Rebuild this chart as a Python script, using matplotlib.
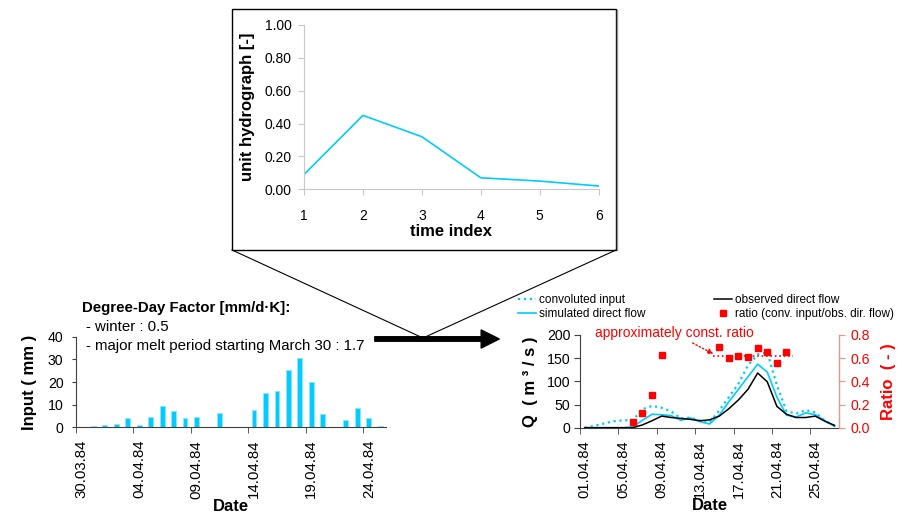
import matplotlib
matplotlib.use("Agg")
import matplotlib.pyplot as plt
import numpy as np
from matplotlib.patches import Rectangle, FancyArrowPatch
from matplotlib.lines import Line2D
from matplotlib.ticker import FormatStrFormatter

# ---- data ----
# unit hydrograph
uh_index = [1, 2, 3, 4, 5, 6]
uh_values = [0.09, 0.45, 0.32, 0.07, 0.05, 0.02]

# daily melt input, 30.03.84 .. 25.04.84
input_mm = [0, 0.5, 1.0, 1.5, 4.0, 0.8, 4.5, 9.4, 7.2, 4.3, 4.7, 0, 6.2, 0,
            0, 7.8, 15.0, 16.0, 25.2, 30.5, 20.1, 5.7, 0, 3.4, 8.5, 4.3, 0.6]
input_ticklabels = ['30.03.84', '04.04.84', '09.04.84', '14.04.84', '19.04.84', '24.04.84']

# discharge, 01.04.84 .. 27.04.84
conv_input = [0, 4, 9, 14, 16, 16, 40, 47, 43, 35, 20, 22, 15, 12,
              37, 66, 95, 135, 158, 163, 92, 36, 30, 38, 33, 15, 4]
sim_flow = [0, 0, 0, 0, 0, 2, 16, 29, 28, 26, 16, 21, 13, 8,
            27, 56, 83, 110, 137, 120, 66, 27, 23, 32, 28, 15, 3]
obs_flow = [0, 0, 0, 0, 0, 0, 6, 15, 25, 22, 20, 18, 15, 17,
            25, 41, 60, 83, 118, 99, 46, 29, 22, 22, 25, 14, 5]
nan = np.nan
ratio = [nan, nan, nan, nan, nan, 0.05, 0.13, 0.28, 0.63, nan, nan, nan, nan, nan,
         0.70, 0.60, 0.62, 0.61, 0.685, 0.65, 0.555, 0.65, nan, nan, nan, nan, nan]
q_ticklabels = ['01.04.84', '05.04.84', '09.04.84', '13.04.84', '17.04.84', '21.04.84', '25.04.84']
const_ratio = 0.62
const_span = (13.4, 21.7)

cyan = '#00CCFF'

plt.rcParams['font.family'] = 'Liberation Sans'
fig = plt.figure(figsize=(9, 5.17), dpi=100)
W, H = 900.0, 517.0


def fx(px):
    return px / W


def fy(py):
    return 1 - py / H


# ---- unit hydrograph inset ----
ax_uh = fig.add_axes([fx(304), fy(189.3), 294.7 / W, 164.3 / H])
ax_uh.plot(uh_index, uh_values, color=cyan, lw=1.2)
ax_uh.set_xlim(1, 6)
ax_uh.set_ylim(0, 1)
ax_uh.set_xticks(uh_index)
ax_uh.set_yticks(np.arange(0, 1.01, 0.2))
ax_uh.yaxis.set_major_formatter(FormatStrFormatter('%.2f'))
for s in ['top', 'right']:
    ax_uh.spines[s].set_visible(False)
for s in ['left', 'bottom']:
    ax_uh.spines[s].set_color('#c8c8c8')
ax_uh.tick_params(axis='y', length=4, color='#c8c8c8', labelsize=10, pad=5)
ax_uh.tick_params(axis='x', length=4, color='#c8c8c8', labelsize=10, pad=10)
ax_uh.set_ylabel('unit hydrograph [-]', fontweight='bold', fontsize=12, labelpad=7)
ax_uh.set_xlabel('time index', fontweight='bold', fontsize=12, labelpad=1)

# box round the inset and callout lines
fig.add_artist(Rectangle((fx(232), fy(250)), (616 - 232) / W, (250 - 9) / H,
                         transform=fig.transFigure, fill=False, edgecolor='black', lw=1))
fig.add_artist(Line2D([fx(617), fx(617)], [fy(250), fy(10)], transform=fig.transFigure,
                      color='#909090', lw=1))
fig.add_artist(Line2D([fx(232), fx(423)], [fy(250), fy(338)], transform=fig.transFigure,
                      color='black', lw=0.8))
fig.add_artist(Line2D([fx(616), fx(423)], [fy(250), fy(338)], transform=fig.transFigure,
                      color='black', lw=0.8))
fig.add_artist(FancyArrowPatch((fx(372), fy(339)), (fx(502), fy(339)), transform=fig.transFigure,
                               arrowstyle='simple,head_length=1.0,head_width=1.0,tail_width=0.25',
                               mutation_scale=13, color='black'))

# ---- input bars ----
ax_in = fig.add_axes([fx(76), fy(427.3), 310 / W, 90.6 / H])
x_in = np.arange(len(input_mm))
ax_in.bar(x_in, input_mm, width=0.42, color=cyan, edgecolor='#8fe6ff', lw=0.6)
ax_in.set_xlim(-0.5, len(input_mm) - 0.5)
ax_in.set_ylim(0, 40)
ax_in.set_yticks([0, 10, 20, 30, 40])
ax_in.set_xticks(np.arange(0, len(input_mm), 5))
ax_in.set_xticklabels(input_ticklabels, rotation=90)
ax_in.set_xticks(np.arange(-0.5, len(input_mm), 5), minor=True)
ax_in.tick_params(axis='x', which='major', length=0, labelsize=10.8, pad=9)
ax_in.tick_params(axis='x', which='minor', length=4, color='#404040')
ax_in.tick_params(axis='y', length=3, color='#404040', labelsize=10.2, pad=6)
for s in ['top', 'right']:
    ax_in.spines[s].set_visible(False)
for s in ['left', 'bottom']:
    ax_in.spines[s].set_color('#404040')
ax_in.set_ylabel('Input ( mm )', fontweight='bold', fontsize=12, labelpad=8)
ax_in.set_xlabel('Date', fontweight='bold', fontsize=12, labelpad=0)

fig.text(fx(82), fy(308), 'Degree-Day Factor [mm/d\u00b7K]:', fontweight='bold', fontsize=10.8, va='center')
fig.text(fx(86), fy(327), '- winter : 0.5', fontsize=10.8, va='center')
fig.text(fx(86), fy(346), '- major melt period starting March 30 : 1.7', fontsize=10.8, va='center')

# ---- discharge chart ----
ax_q = fig.add_axes([fx(580), fy(427.7), 259.3 / W, 92.7 / H])
x_q = np.arange(len(obs_flow))
l_conv, = ax_q.plot(x_q, conv_input, ':', color=cyan, lw=1.6)
l_sim, = ax_q.plot(x_q, sim_flow, '-', color=cyan, lw=1.2)
l_obs, = ax_q.plot(x_q, obs_flow, '-', color='black', lw=1.1)
ax_q.set_xlim(-0.5, len(obs_flow) - 0.5)
ax_q.set_ylim(0, 200)
ax_q.set_yticks([0, 50, 100, 150, 200])
ax_q.set_xticks(np.arange(0, len(obs_flow), 4))
ax_q.set_xticklabels(q_ticklabels, rotation=90)
ax_q.set_xticks(np.arange(-0.5, len(obs_flow), 4), minor=True)
ax_q.tick_params(axis='x', which='major', length=0, labelsize=10.6, pad=9)
ax_q.tick_params(axis='x', which='minor', length=4, color='#404040')
ax_q.tick_params(axis='y', length=4, color='#404040', labelsize=10.2, pad=3)
ax_q.spines['top'].set_visible(False)
for s in ['left', 'bottom']:
    ax_q.spines[s].set_color('#404040')
ax_q.set_ylabel('Q  ( m \u00b3 / s )', fontweight='bold', fontsize=12, labelpad=6)
ax_q.set_xlabel('Date', fontweight='bold', fontsize=12, labelpad=0)

ax_r = ax_q.twinx()
l_ratio, = ax_r.plot(x_q, ratio, 's', color='red', markersize=4.5, ls='none')
ax_r.set_ylim(0, 0.8)
ax_r.set_yticks([0, 0.2, 0.4, 0.6, 0.8])
ax_r.yaxis.set_major_formatter(FormatStrFormatter('%.1f'))
ax_r.spines['top'].set_visible(False)
ax_r.spines['left'].set_visible(False)
ax_r.spines['bottom'].set_visible(False)
ax_r.spines['right'].set_color('#ff8c8c')
ax_r.tick_params(axis='y', length=4, color='#ff8c8c', labelcolor='red', labelsize=10.2, pad=4)
ax_r.set_ylabel('Ratio  ( - )', color='red', fontweight='bold', fontsize=12, labelpad=8)
ax_r.plot(const_span, [const_ratio, const_ratio], ':', color='red', lw=1.2)
ax_r.annotate('approximately const. ratio', xy=(const_span[0], 0.636), xytext=(9.3, 0.815),
              color='red', fontsize=10, ha='center', va='center', annotation_clip=False,
              arrowprops=dict(arrowstyle='-|>', linestyle=':', color='red', lw=1,
                              shrinkA=0, shrinkB=0, mutation_scale=8))

fig.legend([l_conv, l_sim, l_obs, l_ratio],
           ['convoluted input', 'simulated direct flow', 'observed direct flow',
            'ratio (conv. input/obs. dir. flow)'],
           loc='upper left', bbox_to_anchor=(fx(518), fy(294)), ncol=2, frameon=False,
           fontsize=8.5, handlelength=1.5, handletextpad=0.3, columnspacing=5.8,
           labelspacing=0.15, borderaxespad=0, borderpad=0)

fig.savefig('out.png', dpi=100)
